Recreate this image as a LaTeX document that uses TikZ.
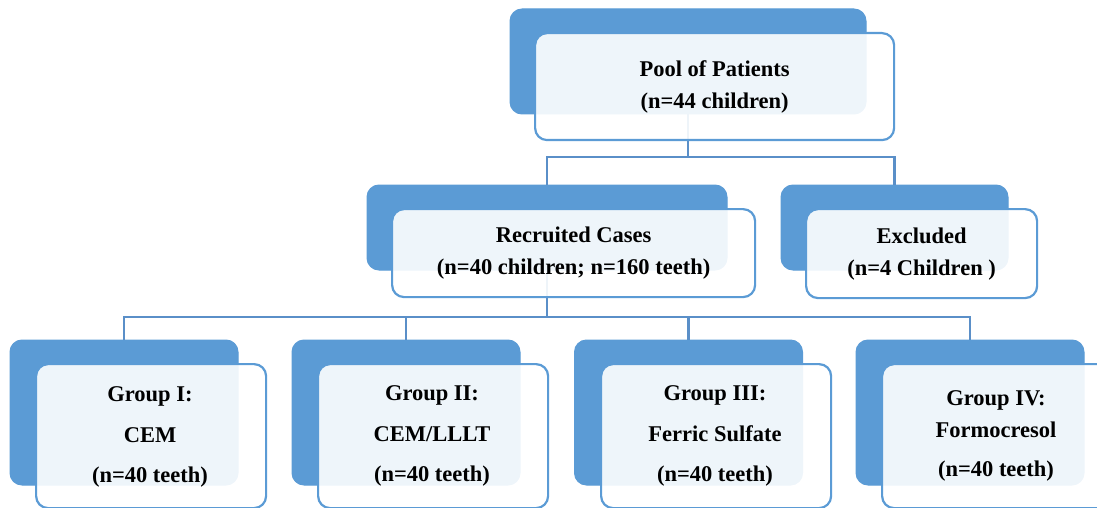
\documentclass[tikz,border=0pt]{standalone}
\usepackage{fontspec}
\setmainfont{Liberation Serif}
\definecolor{boxblue}{HTML}{5B9BD5}
\definecolor{lineblue}{HTML}{5A8FC8}
\tikzset{
  backbox/.style = {draw=boxblue, fill=boxblue, rounded corners=12pt, inner sep=0pt, line width=1pt},
  frontbox/.style = {draw=boxblue, fill=white, fill opacity=0.9, text opacity=1, rounded corners=12pt, inner sep=0pt, line width=2.2pt, anchor=north west},
  label/.style = {font=\fontsize{22.5}{32}\selectfont\bfseries, align=center},
  link/.style = {draw=lineblue, line width=2.4pt}
}
\begin{document}
\begin{tikzpicture}[x=1pt, y=-1pt]
    \useasboundingbox (0,0) rectangle (1097,508);
    \clip (0,0) rectangle (1097,508);
    % back boxes
    \node[backbox, minimum width=356pt, minimum height=105pt] (poolB) at (688,61.5) {};
    \node[backbox, minimum width=360pt, minimum height=85pt] (recB) at (547,227.5) {};
    \node[backbox, minimum width=227pt, minimum height=85pt] (excB) at (894.5,227.5) {};
    \node[backbox, minimum width=228pt, minimum height=145pt] (g1B) at (124,412.5) {};
    \node[backbox, minimum width=228pt, minimum height=145pt] (g2B) at (406,412.5) {};
    \node[backbox, minimum width=228pt, minimum height=145pt] (g3B) at (688.5,412.5) {};
    \node[backbox, minimum width=228pt, minimum height=145pt] (g4B) at (970,412.5) {};
    % connectors
    \coordinate (j1) at (688,157);
    \coordinate (j2) at (547,317);
    \draw[link] (poolB.south) -- (j1);
    \draw[link] (recB.north) |- (j1) -| (excB.north);
    \draw[link] (recB.south) -- (j2);
    \draw[link] (g1B.north) |- (j2) -| (g4B.north);
    \draw[link] (g2B.north) -- (g2B.north |- j2);
    \draw[link] (g3B.north) -- (g3B.north |- j2);
    % front boxes
    \node[frontbox, minimum width=359pt, minimum height=107pt] (poolF) at (534,32) {};
    \node[frontbox, minimum width=363pt, minimum height=88pt] (recF) at (391,208) {};
    \node[frontbox, minimum width=231pt, minimum height=89pt] (excF) at (805,208) {};
    \node[frontbox, minimum width=230pt, minimum height=144pt] (g1F) at (35,363) {};
    \node[frontbox, minimum width=230pt, minimum height=144pt] (g2F) at (317,363) {};
    \node[frontbox, minimum width=230pt, minimum height=144pt] (g3F) at (600,363) {};
    \node[frontbox, minimum width=230pt, minimum height=144pt] (g4F) at (881,363) {};
    % texts
    \node[label] (poolT) at (poolF.center) {Pool of Patients\\(n=44 children)};
    \node[label] (recT) at (recF.center) {Recruited Cases\\(n=40 children; n=160 teeth)};
    \node[label] (excT) at (excF.center) {Excluded\\(n=4 Children )};
    \node[label] (g1T) at (150,436.5) {Group I:\\[9pt]CEM\\[8pt](n=40 teeth)};
    \node[label] (g2T) at (432,436) {Group II:\\[9pt]CEM/LLLT\\[8pt](n=40 teeth)};
    \node[label] (g3T) at (715,436) {Group III:\\[9pt]Ferric Sulfate\\[8pt](n=40 teeth)};
    \node[label] (g4T) at (996,435.5) {Group IV:\\Formocresol\\[7pt](n=40 teeth)};
\end{tikzpicture}
\end{document}
